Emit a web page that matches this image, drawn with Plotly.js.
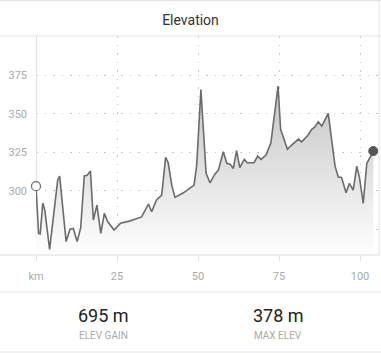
<!DOCTYPE html>
<html>
<head>
<meta charset="utf-8">
<script src="https://cdn.plot.ly/plotly-3.0.1.min.js"></script>
<style>html,body{margin:0;padding:0;background:#fff;}#chart{width:381px;height:353px;}</style>
</head>
<body>
<div id="chart"></div>
<script>
// Distance along route (km)
const distanceKm = [0, 0.8, 1.3, 2.1, 2.7, 4.2, 6.7, 7.3, 9.3, 10.5, 11.5, 12.7, 13.8, 14.9, 15.8, 16.8, 17.7, 18.8, 20.0, 21.1, 22.1, 24.1, 26.1, 27.5, 28.8, 30.3, 32.6, 34.7, 35.7, 37.2, 38.8, 40.0, 40.8, 41.9, 42.9, 45.5, 48.0, 48.8, 49.6, 50.9, 52.5, 53.7, 55.2, 56.3, 57.8, 58.9, 59.9, 60.9, 61.9, 62.9, 64.3, 65.2, 67.3, 68.4, 69.4, 71.0, 72.5, 74.7, 75.5, 77.6, 78.9, 81.0, 82.0, 84.0, 85.1, 86.1, 87.1, 88.2, 90.2, 92.3, 93.3, 94.3, 95.7, 96.7, 97.9, 99.0, 99.8, 101.0, 102.1, 103.3, 104.1];
// Elevation (m)
const elevationM = [303, 272.3, 272, 292, 287.5, 262, 307, 309.5, 267, 275, 275.5, 267, 276, 309.7, 310, 312.8, 281, 290.7, 272.3, 285.3, 280, 274.5, 279, 279.5, 280.3, 281.4, 283, 291.4, 286.4, 294, 297.2, 321.7, 318.2, 303.7, 295.7, 298.7, 302.6, 303.7, 316.7, 365.8, 311.3, 305.2, 310.8, 313.4, 325.3, 317.8, 317.3, 314.5, 326, 315, 320.4, 318.2, 318.2, 322.5, 320.4, 323.2, 331.2, 368, 339.9, 326.9, 329.7, 333.6, 331.8, 336.2, 339.9, 341.5, 344.8, 342, 350.3, 316, 309, 308.7, 298.7, 304.8, 300.5, 316, 309, 291.8, 317.8, 323.2, 325.8];
const xTickVals = [0, 25, 50, 75, 100];
const xTickText = ['km', '25', '50', '75', '100'];
const yTickVals = [275, 300, 325, 350, 375];
const yTickText = ['', '300', '325', '350', '375'];
const statValues = ['695 m', '378 m'];
const statLabels = ['ELEV GAIN', 'MAX ELEV'];

const W = 381, H = 353, L = 36, R = 2, T = 36, B = 98;
const pw = W - L - R, ph = H - T - B;
const px = x => (x - L) / pw;
const py = y => (H - B - y) / ph;

const FONT = 'Roboto, "Liberation Sans", Arial, sans-serif';
const last = distanceKm.length - 1;

const traces = [
  {
    x: distanceKm, y: elevationM, type: 'scatter', mode: 'lines',
    line: {color: '#6b6b6b', width: 1.6},
    fill: 'tozeroy',
    fillgradient: {type: 'vertical', start: 258, stop: 372,
      colorscale: [[0, 'rgba(255,255,255,1)'], [1, 'rgba(194,194,194,1)']]},
    hoverinfo: 'skip', cliponaxis: false
  },
  {
    x: [distanceKm[0]], y: [elevationM[0]], type: 'scatter', mode: 'markers',
    marker: {size: 9, color: '#ffffff', line: {color: '#6b6b6b', width: 1.2}},
    cliponaxis: false, hoverinfo: 'skip'
  },
  {
    x: [distanceKm[last]], y: [elevationM[last]], type: 'scatter', mode: 'markers',
    marker: {size: 9, color: '#555555', line: {color: '#555555', width: 1}},
    cliponaxis: false, hoverinfo: 'skip'
  }
];

const lineC = '#e3e3e3';
const shapes = [
  {type: 'line', xref: 'paper', yref: 'paper', x0: px(0), x1: px(W), y0: py(36), y1: py(36), line: {color: lineC, width: 1}},
  {type: 'line', xref: 'paper', yref: 'paper', x0: px(0), x1: px(W), y0: py(292), y1: py(292), line: {color: lineC, width: 1}},
  {type: 'line', xref: 'paper', yref: 'paper', x0: px(0), x1: px(W), y0: py(0.5), y1: py(0.5), line: {color: lineC, width: 1}},
  {type: 'line', xref: 'paper', yref: 'paper', x0: px(0), x1: px(W), y0: py(352), y1: py(352), line: {color: lineC, width: 1}},
  {type: 'line', xref: 'paper', yref: 'paper', x0: px(0), x1: px(379), y0: py(255), y1: py(255), line: {color: '#dcdcdc', width: 1}},
  {type: 'line', xref: 'paper', yref: 'paper', x0: px(379), x1: px(379), y0: py(0), y1: py(255), line: {color: lineC, width: 1}}
];

const annotations = [];
[103, 278].forEach((cx, i) => {
  annotations.push({xref: 'paper', yref: 'paper', x: px(cx), y: py(315), xanchor: 'center', yanchor: 'middle',
    text: statValues[i], showarrow: false, font: {family: FONT, size: 18, color: '#222'}});
  annotations.push({xref: 'paper', yref: 'paper', x: px(cx), y: py(335), xanchor: 'center', yanchor: 'middle',
    text: statLabels[i], showarrow: false, font: {family: FONT, size: 10, color: '#aaaaaa'}});
});

const layout = {
  width: W, height: H,
  margin: {l: L, r: R, t: T, b: B},
  paper_bgcolor: '#ffffff', plot_bgcolor: '#ffffff',
  showlegend: false,
  font: {family: FONT},
  title: {text: 'Elevation', x: 0.5, xref: 'container', y: 1 - 20 / H, yref: 'container',
    xanchor: 'center', yanchor: 'middle', font: {family: FONT, size: 14, color: '#333'}},
  xaxis: {
    range: [0, (379 - 36) / 3.24], fixedrange: true,
    tickvals: xTickVals, ticktext: xTickText,
    showgrid: true, gridcolor: '#c8c8c8', griddash: '1.5px,7px', gridwidth: 1,
    zeroline: true, zerolinecolor: '#e0e0e0', zerolinewidth: 1,
    ticks: 'outside', ticklen: 5, tickcolor: '#e0e0e0',
    ticklabelstandoff: 6,
    tickfont: {family: FONT, size: 11, color: '#aaaaaa'},
    showline: false
  },
  yaxis: {
    range: [258.3, 400.5], fixedrange: true,
    tickvals: yTickVals, ticktext: yTickText,
    showgrid: true, gridcolor: '#c8c8c8', griddash: '1.5px,7px', gridwidth: 1,
    zeroline: false, ticks: '', showline: false,
    ticklabelstandoff: 8,
    tickfont: {family: FONT, size: 11, color: '#aaaaaa'}
  },
  shapes: shapes,
  annotations: annotations
};

Plotly.newPlot('chart', traces, layout, {staticPlot: true, displayModeBar: false});
</script>
</body>
</html>
